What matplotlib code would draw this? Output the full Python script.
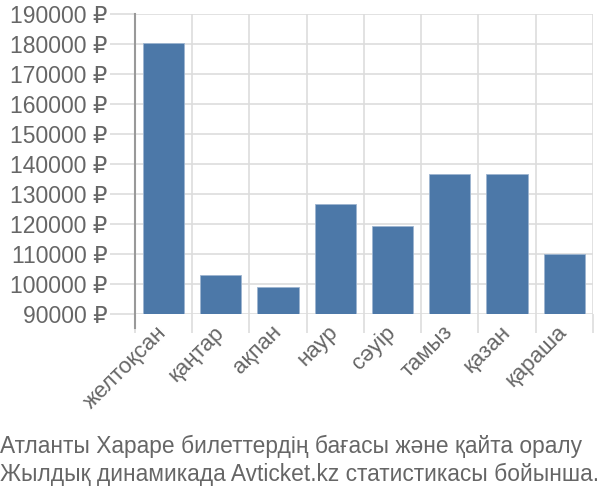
import matplotlib.pyplot as plt
from matplotlib.ticker import FixedLocator
from matplotlib.transforms import ScaledTranslation

plt.rcParams['font.family'] = ['Liberation Sans', 'DejaVu Sans']

# Data
months = ["желтоқсан", "қаңтар", "ақпан", "наур", "сәуір", "тамыз", "қазан", "қараша"]
prices = [180300, 102900, 99000, 126600, 119300, 136800, 136800, 110000]
y_ticks = [90000, 100000, 110000, 120000, 130000, 140000, 150000, 160000, 170000, 180000, 190000]
caption = ["Атланты Хараре билеттердің бағасы және қайта оралу",
           "Жылдық динамикада Avticket.kz статистикасы бойынша."]

bar_color = "#4c78a8"
grid_color = "#dddddd"
text_color = "#666666"

fig = plt.figure(figsize=(6, 5), dpi=100)
ax = fig.add_axes([0.225, 0.372, 0.763, 0.6])

x = list(range(len(months)))
ax.bar(x, prices, width=0.72, color=bar_color, edgecolor="#9db5d0", linewidth=0.6, zorder=3)

ax.set_ylim(90000, 190000)
ax.set_xlim(-0.5, len(months) - 0.5)

ax.set_yticks(y_ticks)
ax.set_yticklabels([f"{v} ₽" for v in y_ticks], fontsize=16.5, color=text_color)
ax.set_xticks(x)
ax.set_xticklabels(months, rotation=45, ha="right", va="center", rotation_mode="anchor",
                   fontsize=16, color=text_color)
# nudge rotated labels a little to the right
shift = ScaledTranslation(5 / 72, 0, fig.dpi_scale_trans)
for lbl in ax.get_xticklabels():
    lbl.set_transform(lbl.get_transform() + shift)
ax.xaxis.set_minor_locator(FixedLocator([i - 0.5 for i in range(len(months) + 1)]))

ax.tick_params(axis="y", length=18, color=grid_color, width=1.2, pad=2)
ax.tick_params(axis="x", which="major", length=0, pad=11)
ax.tick_params(axis="x", which="minor", length=14, color=grid_color, width=1.2)

ax.grid(axis="y", color=grid_color, linewidth=1.2, zorder=0)
ax.grid(axis="x", which="minor", color=grid_color, linewidth=1.2, zorder=0)

for s in ["top", "right", "bottom", "left"]:
    ax.spines[s].set_visible(False)
ax.axvline(-0.5, ymin=-0.047, ymax=1, color="#999999", linewidth=1.5, clip_on=False, zorder=4)

fig.text(0.0, 0.108, caption[0], fontsize=16.4, color=text_color, ha="left", va="center")
fig.text(0.0, 0.052, caption[1], fontsize=16.4, color=text_color, ha="left", va="center")

fig.savefig("out.png", dpi=100)
